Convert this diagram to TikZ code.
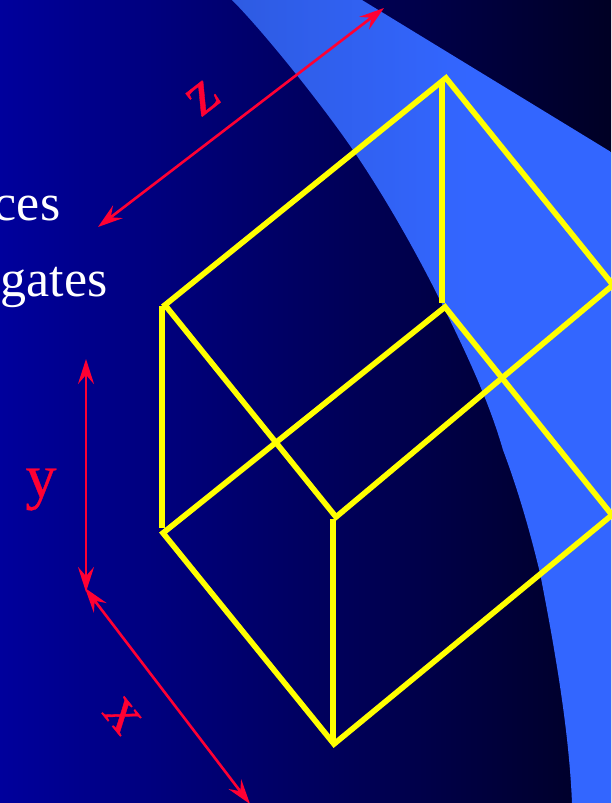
\documentclass[tikz,border=0pt]{standalone}
\usepackage{fontspec}
\setmainfont{Liberation Serif}
\newfontfamily\labelfont[FakeBold=0.6]{Liberation Serif}
\usetikzlibrary{arrows.meta}
\definecolor{bgL}{HTML}{00009C}
\definecolor{bgR}{HTML}{000024}
\definecolor{lightblue}{HTML}{3366FF}
\definecolor{midblue}{HTML}{2E5BE2}
\definecolor{redmark}{HTML}{FF0033}
\definecolor{yel}{HTML}{FFFF00}
\tikzset{
  edge3d/.style={draw=yel,line width=5.6pt,miter limit=10},
  axisarrow/.style={draw=redmark,line width=2.6pt,{Stealth[length=25pt,width=16pt,inset=9pt]}-{Stealth[length=25pt,width=16pt,inset=9pt]}},
  axislabel/.style={text=redmark,font=\labelfont\fontsize{62}{62}\selectfont,inner sep=0pt},
  caption/.style={text=white,font=\fontsize{52}{52}\selectfont,inner sep=0pt,anchor=base east}
}
\begin{document}
\begin{tikzpicture}[x=1pt,y=-1pt]
\useasboundingbox (0,0) rectangle (611,803);
\shade[left color=bgL,right color=bgR] (0,0) rectangle (611,803);
% lit band
\begin{scope}
\clip (232,0) .. controls (262,30) and (320,102) .. (353,150)
  .. controls (385,197) and (415,250) .. (440,300)
  .. controls (470,360) and (490,405) .. (503,450)
  .. controls (520,495) and (532,540) .. (540,573)
  .. controls (555,650) and (569,730) .. (572,803)
  -- (611,803) -- (611,152) -- (362,0) -- cycle;
\shade[left color=midblue,right color=lightblue] (232,0) rectangle (470,803);
\fill[lightblue] (469.5,0) rectangle (611,803);
\end{scope}
% captions
\node[caption] (c1) at (60.5,220) {ces};
\node[caption] (c2) at (107.5,296) {gates};
% box corners
\coordinate (T) at (446,78);
\coordinate (TL) at (165,305);
\coordinate (TR) at (613,285);
\coordinate (M) at (445,307);
\coordinate (C) at (336,517);
\coordinate (L) at (163,533);
\coordinate (R) at (612,515);
\coordinate (B) at (334,744);
\coordinate (Va) at (442,82);
\coordinate (Vb) at (442,303);
\coordinate (Vc) at (162,306);
\coordinate (Vd) at (162,528);
\coordinate (Ve) at (333,519);
\coordinate (Vf) at (333,744);
\draw[edge3d] (TL) -- (T) -- (TR) -- (C) -- (TL) -- cycle;
\draw[edge3d] (L) -- (M) -- (R) -- (B) -- cycle;
\draw[edge3d] (Va) -- (Vb);
\draw[edge3d] (Vc) -- (Vd);
\draw[edge3d] (Ve) -- (Vf);
% axes
\coordinate (za) at (384,8);
\coordinate (zb) at (98,227);
\coordinate (ya) at (86,359);
\coordinate (yb) at (86,592);
\coordinate (xa) at (85,588);
\coordinate (xb) at (250,804);
\draw[axisarrow] (zb) -- (za);
\draw[axisarrow] (ya) -- (yb);
\draw[axisarrow] (xa) -- (xb);
\node[axislabel,rotate=38] (zl) at (203,98) {z};
\node[axislabel,anchor=base] (yl) at (41,497) {y};
\node[axislabel,rotate=-51] (xl) at (122,716) {x};
\end{tikzpicture}
\end{document}
